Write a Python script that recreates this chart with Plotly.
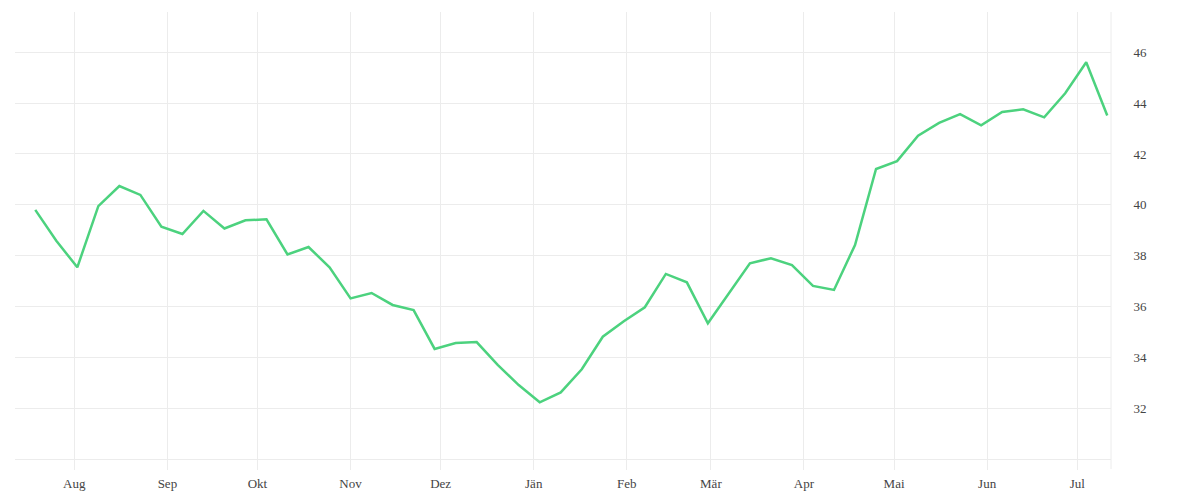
import plotly.graph_objects as go

dates = [
    "2022-07-19", "2022-07-26", "2022-08-02", "2022-08-09", "2022-08-16", "2022-08-23", "2022-08-30",
    "2022-09-06", "2022-09-13", "2022-09-20", "2022-09-27", "2022-10-04", "2022-10-11", "2022-10-18",
    "2022-10-25", "2022-11-01", "2022-11-08", "2022-11-15", "2022-11-22", "2022-11-29", "2022-12-06",
    "2022-12-13", "2022-12-20", "2022-12-27", "2023-01-03", "2023-01-10", "2023-01-17", "2023-01-24",
    "2023-01-31", "2023-02-07", "2023-02-14", "2023-02-21", "2023-02-28", "2023-03-07", "2023-03-14",
    "2023-03-21", "2023-03-28", "2023-04-04", "2023-04-11", "2023-04-18", "2023-04-25", "2023-05-02",
    "2023-05-09", "2023-05-16", "2023-05-23", "2023-05-30", "2023-06-06", "2023-06-13", "2023-06-20",
    "2023-06-27", "2023-07-04", "2023-07-11",
]

values = [
    39.80, 38.59, 37.54, 39.95, 40.74, 40.39, 39.14, 38.85, 39.76, 39.07,
    39.39, 39.43, 38.05, 38.34, 37.54, 36.32, 36.53, 36.06, 35.86, 34.33,
    34.56, 34.60, 33.70, 32.91, 32.23, 32.62, 33.53, 34.81, 35.42, 35.97,
    37.28, 36.95, 35.34, 36.52, 37.70, 37.90, 37.63, 36.81, 36.65, 38.42,
    41.41, 41.72, 42.72, 43.22, 43.57, 43.13, 43.65, 43.76, 43.44, 44.39,
    45.61, 43.51,
]

month_ticks = [
    "2022-08-01", "2022-09-01", "2022-10-01", "2022-11-01", "2022-12-01", "2023-01-01",
    "2023-02-01", "2023-03-01", "2023-04-01", "2023-05-01", "2023-06-01", "2023-07-01",
]
month_labels = ["Aug", "Sep", "Okt", "Nov", "Dez", "Jän", "Feb", "Mär", "Apr", "Mai", "Jun", "Jul"]

y_ticks = [32, 34, 36, 38, 40, 42, 44, 46]
y_labels = [str(v) for v in y_ticks]

GRID = "#ececec"
FONT = dict(family="Liberation Serif, serif", size=13, color="#444444")

fig = go.Figure()
fig.add_trace(go.Scatter(
    x=dates, y=values, mode="lines",
    line=dict(color="#4cd27e", width=2.5),
    hoverinfo="x+y", showlegend=False,
))

fig.update_layout(
    width=1200, height=500,
    margin=dict(l=7, r=97, t=4, b=49),
    paper_bgcolor="white", plot_bgcolor="white",
    font=FONT,
    xaxis=dict(
        type="date",
        range=["2022-07-12 06:00", "2023-07-12 06:00"],
        tickvals=month_ticks, ticktext=month_labels,
        showgrid=True, gridcolor=GRID, gridwidth=1,
        ticks="outside", ticklen=10, tickcolor=GRID, tickwidth=1,
        ticklabelstandoff=2,
        showline=True, linecolor=GRID, linewidth=1,
        zeroline=False, tickfont=FONT,
    ),
    yaxis=dict(
        side="right",
        range=[30, 47.585],
        tickvals=y_ticks, ticktext=y_labels,
        showgrid=True, gridcolor=GRID, gridwidth=1,
        ticks="outside", ticklen=19, tickcolor="rgba(0,0,0,0)",
        showline=False, zeroline=False, tickfont=FONT,
    ),
    shapes=[dict(
        type="line", xref="paper", yref="paper",
        x0=1, x1=1, y0=-10 / 447, y1=1,
        line=dict(color=GRID, width=1), layer="below",
    )],
)

fig.write_html("out.html")
